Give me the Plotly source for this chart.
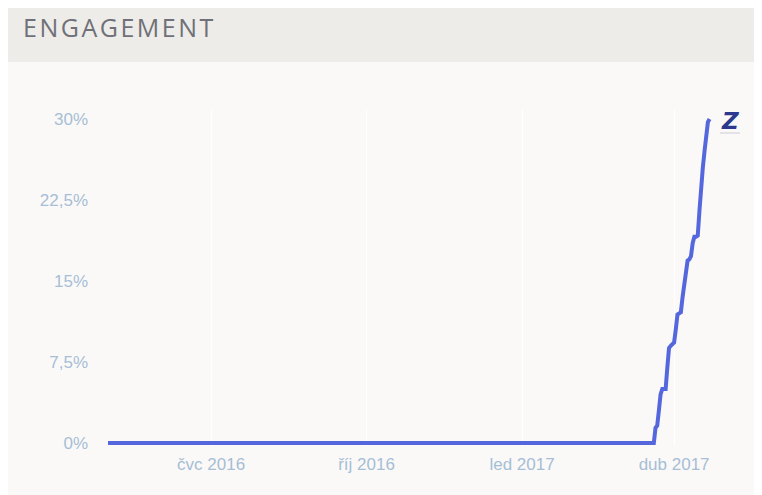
import plotly.graph_objects as go

# engagement (%) by day
dates = ["2016-05-01", "2017-03-20", "2017-03-21", "2017-03-22", "2017-03-23",
         "2017-03-24", "2017-03-25", "2017-03-26", "2017-03-27", "2017-03-28",
         "2017-03-29", "2017-03-30", "2017-03-31", "2017-04-01", "2017-04-02",
         "2017-04-03", "2017-04-04", "2017-04-05", "2017-04-06", "2017-04-07",
         "2017-04-08", "2017-04-09", "2017-04-10", "2017-04-11", "2017-04-12",
         "2017-04-13", "2017-04-14", "2017-04-15", "2017-04-16", "2017-04-17",
         "2017-04-18", "2017-04-19", "2017-04-20", "2017-04-21", "2017-04-22"]
engagement = [0, 0, 1.4, 1.6, 3.0,
              4.5, 5.0, 5.0, 5.0, 7.0,
              8.8, 9.0, 9.1, 9.3, 10.5,
              11.9, 12.0, 12.1, 13.5, 14.8,
              16.0, 16.9, 17.0, 17.3, 18.5,
              19.1, 19.1, 19.2, 21.5, 24.0,
              25.5, 27.0, 28.5, 29.7, 30.0]

x_ticks = ["2016-07-01", "2016-10-01", "2017-01-01", "2017-04-01"]
x_tick_labels = ["čvc 2016", "říj 2016", "led 2017", "dub 2017"]
y_ticks = [0, 7.5, 15, 22.5, 30]
y_tick_labels = ["0%", "7,5%", "15%", "22,5%", "30%"]

LABEL = "#a6bed6"
W, H = 752, 487
L, R, T, B = 100, 20, 102, 49
PW, PH = W - L - R, H - T - B


def px(x):
    return (x - L) / PW


def py(y):
    return (H - B - y) / PH


fig = go.Figure(
    go.Scatter(
        x=dates, y=engagement, mode="lines",
        line=dict(color="#5567dd", width=4),
        hoverinfo="skip",
    )
)

# light card panel under the grey header band
fig.add_shape(type="rect", xref="paper", yref="paper", layer="below",
              x0=px(0), x1=px(W), y0=py(H + 10), y1=py(54),
              fillcolor="#faf9f7", line_width=0)
fig.add_shape(type="line", xref="paper", yref="paper",
              x0=px(712), x1=px(732), y0=py(125), y1=py(125),
              line=dict(color="#cfcbd8", width=1))

title = "\u200a".join("ENGAGEMENT")
fig.add_annotation(text=title, xref="paper", yref="paper",
                   x=px(13), y=py(19), xanchor="left", yanchor="middle",
                   showarrow=False,
                   font=dict(family="Open Sans, sans-serif", size=25,
                             color="#707078"))
fig.add_annotation(text="<b><i>Z</i></b>", xref="paper", yref="paper",
                   x=px(722), y=py(113), xanchor="center", yanchor="middle",
                   showarrow=False,
                   font=dict(family="DejaVu Sans, sans-serif",
                             size=23, color="#2b3a8f"))

fig.update_layout(
    width=W, height=H,
    paper_bgcolor="#edece8",
    plot_bgcolor="rgba(0,0,0,0)",
    margin=dict(l=L, r=R, t=T, b=B),
    showlegend=False,
    font=dict(family="Liberation Sans, Arial, sans-serif", size=17, color=LABEL),
    xaxis=dict(
        range=["2016-05-01", "2017-05-10"],
        tickvals=x_ticks, ticktext=x_tick_labels,
        showgrid=True, gridcolor="#ffffff", gridwidth=1,
        zeroline=False, showline=False, ticks="",
        ticklabelstandoff=6,
    ),
    yaxis=dict(
        range=[-0.28, 30.83],
        tickvals=y_ticks, ticktext=y_tick_labels,
        showgrid=False, zeroline=False, showline=False, ticks="",
        ticklabelstandoff=19,
    ),
)

fig.write_html("out.html")
